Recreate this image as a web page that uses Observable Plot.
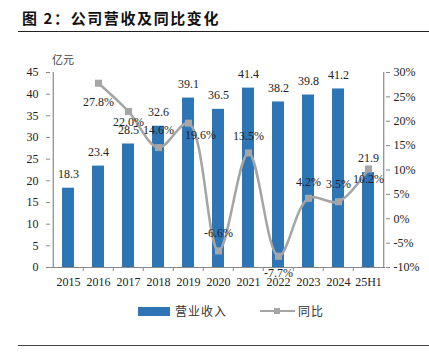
<!DOCTYPE html>
<html><head><meta charset="utf-8">
<script src="https://cdn.jsdelivr.net/npm/d3@7"></script>
<script src="https://cdn.jsdelivr.net/npm/@observablehq/plot@0.6"></script>
<style>
body{margin:0;background:#fff;}
#wrap{position:relative;width:429px;height:353px;overflow:hidden;font-family:"Liberation Serif",serif;}
#title{position:absolute;left:22px;top:7px;font-family:"Noto Sans CJK SC",sans-serif;font-weight:bold;font-size:15px;letter-spacing:1.6px;color:#111;}
#tline{position:absolute;left:18px;top:31px;width:411px;height:0;border-top:1.3px solid #222;}
#bline{position:absolute;left:18px;top:345px;width:411px;height:0;border-top:1.5px solid #444;}
#unit{position:absolute;left:52px;top:51px;font-family:"Noto Sans CJK SC",sans-serif;font-size:11px;color:#444;}
#plot{position:absolute;left:0;top:0;}
.leg{position:absolute;font-family:"Noto Sans CJK SC",sans-serif;font-size:12px;color:#333;letter-spacing:1px;}
</style></head>
<body><div id="wrap">
<div id="title">图 2：公司营收及同比变化</div>
<div id="tline"></div>
<div id="unit">亿元</div>
<div id="plot"></div>
<div style="position:absolute;left:138px;top:307px;width:32px;height:9px;background:#2E75B6;"></div>
<div class="leg" style="left:175px;top:302px;">营业收入</div>
<div style="position:absolute;left:260px;top:310px;width:35px;height:0;border-top:2px solid #A5A5A5;"></div>
<div style="position:absolute;left:274px;top:308px;width:6px;height:6px;background:#A5A5A5;"></div>
<div class="leg" style="left:298px;top:302px;">同比</div>
<div id="bline"></div>
</div>
<script>
const categories = ["2015","2016","2017","2018","2019","2020","2021","2022","2023","2024","25H1"];
const revenue = [18.3,23.4,28.5,32.6,39.1,36.5,41.4,38.2,39.8,41.2,21.9];
const yoy = [null,27.8,22.0,14.6,19.6,-6.6,13.5,-7.7,4.2,3.5,10.2];
const leftTicks = [0,5,10,15,20,25,30,35,40,45];
const rightTicks = [-10,-5,0,5,10,15,20,25,30];

const toY = p => (p + 10) * 45 / 40;
const data = categories.map((c,i)=>({c, rev: revenue[i], yoy: yoy[i]}));
const lineData = data.filter(d => d.yoy != null);

const ml = 50, mr = 44, W = 429;
const step = (W - ml - mr) / categories.length;
// label offsets for yoy labels [dx, dy]
const off = {"2016":[0,19],"2017":[0,11],"2018":[0,-17],"2019":[12,12],"2020":[0,-18],
  "2021":[0,-17],"2022":[0,17],"2023":[0,-16],"2024":[0,-18],"25H1":[0,10]};

const font = "Liberation Serif, serif";
const plot = Plot.plot({
  width: W, height: 353,
  marginLeft: ml, marginRight: mr, marginTop: 72, marginBottom: 86,
  style: {fontFamily: font, fontSize: "12px", color: "#222", background: "transparent"},
  x: {type: "band", domain: categories, paddingInner: 0.6, paddingOuter: 0.3, axis: null, label: null},
  y: {domain: [0,45], axis: null, label: null},
  marks: [
    Plot.barY(data, {x: "c", y: "rev", fill: "#2E75B6"}),
    Plot.ruleY([0], {stroke: "#888", strokeWidth: 1.2}),
    Plot.ruleX([categories[0]], {x: d=>d, y1: 0, y2: 45, dx: -step/2, stroke: "#888", strokeWidth: 1.2}),
    Plot.ruleX([categories[categories.length-1]], {x: d=>d, y1: 0, y2: 45, dx: step/2, stroke: "#888", strokeWidth: 1.2}),
    Plot.ruleX(categories.slice(1), {x: d=>d, y1: 0, y2: -0.95, dx: -step/2, stroke: "#888"}),
    Plot.axisY({anchor: "left", label: null, ticks: leftTicks, tickSize: 4, tickPadding: 8, stroke: "#888", fontSize: 12, fill: "#222"}),
    Plot.axisY({anchor: "right", label: null, ticks: rightTicks.map(toY), tickFormat: v => Math.round(v*40/45 - 10) + "%", tickSize: 4, tickPadding: 4, stroke: "#888", fontSize: 12}),
    Plot.axisX({label: null, ticks: categories, tickSize: 0, tickPadding: 10, fontSize: 12}),
    Plot.text(data, {x: "c", y: "rev", text: d => d.rev.toFixed(1), dy: -14, fontSize: 12, fill: "#222"}),
    Plot.line(lineData, {x: "c", y: d => toY(d.yoy), stroke: "#A5A5A5", strokeWidth: 2.5, curve: "catmull-rom"}),
    Plot.dot(lineData, {x: "c", y: d => toY(d.yoy), symbol: "square", r: 4, fill: "#A5A5A5"}),
    ...lineData.map(d => Plot.text([d], {x: "c", y: e => toY(e.yoy), text: e => e.yoy.toFixed(1) + "%", dx: off[d.c][0], dy: off[d.c][1], fontSize: 12, fill: "#222"}))
  ]
});
document.getElementById("plot").appendChild(plot);
</script>
</body></html>
